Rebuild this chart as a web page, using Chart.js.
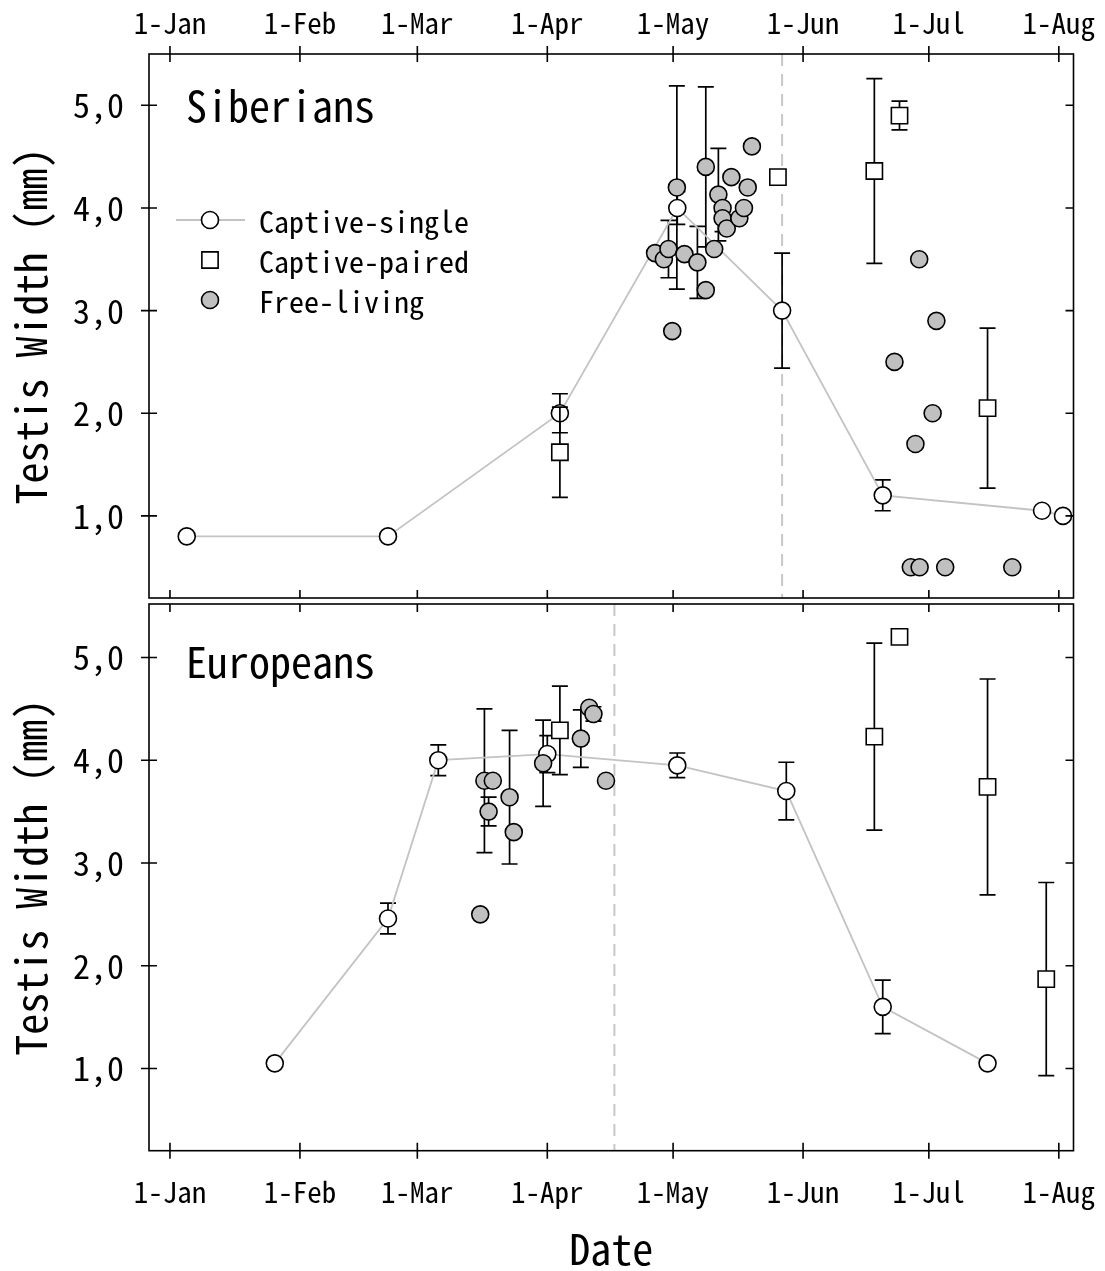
<!DOCTYPE html>
<html><head><meta charset="utf-8">
<script src="https://cdn.jsdelivr.net/npm/chart.js@4"></script>
<style>
html,body{margin:0;padding:0;background:#fff;}
#wrap{position:relative;width:1105px;height:1271px;overflow:hidden;}
canvas{position:absolute;left:0;}
#c1{top:0;}
#c2{top:602px;}
</style></head><body>
<div id="wrap"><canvas id="c1" width="1105" height="602"></canvas><canvas id="c2" width="1105" height="669"></canvas></div>
<script>
const FONT = "'Noto Sans Mono CJK SC', 'DejaVu Sans Mono', monospace";

// x values are day of year (0 = 1 January)
const monthTicks = [0, 31, 59, 90, 120, 151, 181, 212];
const monthLabels = ['1-Jan', '1-Feb', '1-Mar', '1-Apr', '1-May', '1-Jun', '1-Jul', '1-Aug'];
const yTicks = [1, 2, 3, 4, 5];
const seriesNames = ['Captive-single', 'Captive-paired', 'Free-living'];
const panelNames = ['Siberians', 'Europeans'];

// ---- Siberians ----
const sibSingleX = [4, 52, 93, 121, 146, 170, 208, 213];
const sibSingleY = [0.80, 0.80, 2.00, 4.00, 3.00, 1.20, 1.05, 1.00];
const sibSingleErr = [null, null, 0.19, 0.16, 0.56, 0.15, null, null];

const sibPairedX = [93, 145, 168, 174, 195];
const sibPairedY = [1.62, 4.30, 4.36, 4.90, 2.05];
const sibPairedErr = [0.44, null, 0.90, 0.14, 0.78];

const sibFreeX = [115.7, 117.8, 118.9, 119.8, 120.9, 122.7, 125.8, 127.8, 127.8, 129.8, 130.8, 131.8, 131.8, 132.8, 133.9, 135.8, 136.9, 137.8, 138.8,
                  172.8, 176.7, 177.8, 178.7, 178.8, 181.9, 182.8, 184.9, 200.9];
const sibFreeY = [3.56, 3.50, 3.60, 2.80, 4.20, 3.55, 3.47, 3.20, 4.40, 3.60, 4.13, 4.00, 3.90, 3.80, 4.30, 3.90, 4.00, 4.20, 4.60,
                  2.50, 0.50, 1.70, 3.50, 0.50, 2.00, 2.90, 0.50, 0.50];
const sibFreeErr = [null, null, 0.28, null, 0.99, null, 0.35, null, 0.78, null, 0.45, null, 0.13, null, null, null, null, null, null,
                    null, null, null, null, null, null, null, null, null];
const sibDashDay = 146;

// ---- Europeans ----
const eurSingleX = [25, 52, 64, 90, 121, 147, 170, 195];
const eurSingleY = [1.05, 2.46, 4.00, 4.06, 3.95, 3.70, 1.60, 1.05];
const eurSingleErr = [null, 0.15, 0.15, 0.18, 0.12, 0.28, 0.26, null];

const eurPairedX = [93, 168, 174, 195, 209];
const eurPairedY = [4.29, 4.23, 5.20, 3.74, 1.87];
const eurPairedErr = [0.43, 0.91, null, 1.05, 0.94];

const eurFreeX = [74, 75, 77, 76, 81, 82, 89, 98, 100, 101, 104];
const eurFreeY = [2.50, 3.80, 3.80, 3.50, 3.64, 3.30, 3.97, 4.21, 4.51, 4.45, 3.80];
const eurFreeErr = [null, 0.70, null, 0.14, 0.65, null, 0.42, 0.28, null, 0.07, null];
const eurDashDay = 106;

const xMin = -5, xMax = 215.5;

function pts(xs, ys) { return xs.map((v, i) => ({x: v, y: ys[i]})); }

function makeDatasets(sx, sy, se, px, py, pe, fx, fy, fe) {
  return [
    {label: seriesNames[0], data: pts(sx, sy), errors: se, showLine: true, borderColor: '#c3c3c3', borderWidth: 1.8,
     pointStyle: 'circle', pointRadius: 8.5, pointBackgroundColor: '#ffffff', pointBorderColor: '#000', pointBorderWidth: 1.6, order: 3},
    {label: seriesNames[1], data: pts(px, py), errors: pe, showLine: false,
     pointStyle: 'rect', pointRadius: 11.5, pointBackgroundColor: '#ffffff', pointBorderColor: '#000', pointBorderWidth: 1.6, order: 2},
    {label: seriesNames[2], data: pts(fx, fy), errors: fe, errUnder: true, showLine: false,
     pointStyle: 'circle', pointRadius: 8.5, pointBackgroundColor: '#c0c0c0', pointBorderColor: '#000', pointBorderWidth: 1.6, order: 1}
  ];
}

function drawErr(chart, i) {
  const ds = chart.data.datasets[i];
  if (!ds.errors) return;
  const meta = chart.getDatasetMeta(i);
  const y = chart.scales.y, ctx = chart.ctx;
  ctx.save();
  ctx.strokeStyle = '#000'; ctx.lineWidth = 1.7;
  ds.data.forEach((p, j) => {
    const e = ds.errors[j];
    if (e == null) return;
    const px = meta.data[j].x;
    const t = y.getPixelForValue(p.y + e), b = y.getPixelForValue(p.y - e);
    ctx.beginPath();
    ctx.moveTo(px, t); ctx.lineTo(px, b);
    ctx.moveTo(px - 8, t); ctx.lineTo(px + 8, t);
    ctx.moveTo(px - 8, b); ctx.lineTo(px + 8, b);
    ctx.stroke();
  });
  ctx.restore();
}

const decor = {
  id: 'decor',
  beforeDatasetsDraw(chart, args, opts) {
    const {ctx, chartArea: a, scales: {x}} = chart;
    ctx.save();
    ctx.strokeStyle = '#c8c8c8'; ctx.lineWidth = 2; ctx.setLineDash([12, 8]);
    const dx = x.getPixelForValue(opts.dashDay);
    ctx.beginPath(); ctx.moveTo(dx, a.top); ctx.lineTo(dx, a.bottom); ctx.stroke();
    ctx.restore();
    chart.data.datasets.forEach((ds, i) => { if (ds.errUnder) drawErr(chart, i); });
  },
  beforeDatasetDraw(chart, args) {
    const ds = chart.data.datasets[args.index];
    if (!ds.errUnder) drawErr(chart, args.index);
  },
  afterDraw(chart, args, opts) {
    const {ctx, chartArea: a, scales: {x, y}} = chart;
    const L = 8;
    ctx.save();
    ctx.strokeStyle = '#000'; ctx.lineWidth = 1.6;
    ctx.strokeRect(a.left, a.top, a.right - a.left, a.bottom - a.top);
    ctx.beginPath();
    x.ticks.forEach(t => {
      const px = x.getPixelForValue(t.value);
      ctx.moveTo(px, a.top + L); ctx.lineTo(px, a.top - (opts.topOut ? L : 0));
      ctx.moveTo(px, a.bottom - L); ctx.lineTo(px, a.bottom + (opts.bottomOut ? L : 0));
    });
    y.ticks.forEach(t => {
      const py = y.getPixelForValue(t.value);
      ctx.moveTo(a.left - L, py); ctx.lineTo(a.left + L, py);
      ctx.moveTo(a.right - L, py); ctx.lineTo(a.right, py);
    });
    ctx.stroke();
    // panel title
    ctx.fillStyle = '#000';
    ctx.font = '42px ' + FONT;
    ctx.textAlign = 'left'; ctx.textBaseline = 'alphabetic';
    ctx.fillText(opts.title, opts.titleX, opts.titleY);
    // legend
    if (opts.legend) {
      const ds = chart.data.datasets;
      const lx = 210, rows = [220, 260, 300];
      ctx.font = '30px ' + FONT;
      ctx.textBaseline = 'middle';
      ds.forEach((d, i) => {
        const ly = rows[i];
        if (d.showLine) {
          ctx.strokeStyle = d.borderColor; ctx.lineWidth = d.borderWidth;
          ctx.beginPath(); ctx.moveTo(176, ly); ctx.lineTo(245, ly); ctx.stroke();
        }
        ctx.fillStyle = d.pointBackgroundColor; ctx.strokeStyle = d.pointBorderColor; ctx.lineWidth = d.pointBorderWidth;
        ctx.beginPath();
        if (d.pointStyle === 'rect') {
          const s = d.pointRadius * Math.SQRT1_2;
          ctx.rect(lx - s, ly - s, 2 * s, 2 * s);
        } else {
          ctx.arc(lx, ly, d.pointRadius, 0, Math.PI * 2);
        }
        ctx.fill(); ctx.stroke();
        ctx.fillStyle = '#000';
        ctx.fillText(d.label, 259, ly + 2);
      });
    }
    ctx.restore();
  }
};

function zeroPad(s) { s.paddingLeft = 0; s.paddingRight = 0; s.paddingTop = 0; s.paddingBottom = 0; }

function xAxis(position, showLabels, height, padding, title) {
  return {
    type: 'linear', position: position, min: xMin, max: xMax,
    afterBuildTicks: s => { s.ticks = monthTicks.map(v => ({value: v})); },
    ticks: {display: showLabels, autoSkip: false, maxRotation: 0, minRotation: 0, color: '#000', padding: padding,
            font: {family: FONT, size: 29, lineHeight: 1.2}, callback: (v, i) => monthLabels[i]},
    grid: {display: false, drawTicks: false}, border: {display: false},
    title: title ? {display: true, text: title, color: '#000', font: {family: FONT, size: 42, lineHeight: 1}, padding: {top: 0, bottom: 1}} : {display: false},
    afterFit: s => { s.height = height; zeroPad(s); }
  };
}

function yAxis(yMax) {
  return {
    type: 'linear', position: 'left', min: 0.2, max: yMax,
    afterBuildTicks: s => { s.ticks = yTicks.map(v => ({value: v})); },
    ticks: {color: '#000', padding: 25, font: {family: FONT, size: 34, lineHeight: 1.2},
            callback: v => v.toFixed(1).replace('.', ',')},
    grid: {display: false, drawTicks: false}, border: {display: false},
    title: {display: true, text: 'Testis Width (mm)', color: '#000', font: {family: FONT, size: 42, lineHeight: 1}, padding: {top: 10, bottom: 0}},
    afterFit: s => { s.width = 149; zeroPad(s); }
  };
}

// Top chart: Siberians
new Chart(document.getElementById('c1'), {
  type: 'scatter',
  data: {datasets: makeDatasets(sibSingleX, sibSingleY, sibSingleErr, sibPairedX, sibPairedY, sibPairedErr, sibFreeX, sibFreeY, sibFreeErr)},
  options: {
    responsive: false, animation: false, events: [],
    layout: {autoPadding: false, padding: {left: 0, right: 31.5, top: 0, bottom: 0}},
    scales: {
      x: xAxis('bottom', false, 4, 0, null),
      x2: xAxis('top', true, 54, 14, null),
      y: yAxis(5.5)
    },
    plugins: {
      legend: {display: false}, tooltip: {enabled: false},
      decor: {dashDay: sibDashDay, topOut: true, bottomOut: false, title: panelNames[0], titleX: 186, titleY: 122, legend: true}
    }
  },
  plugins: [decor]
});

// Bottom chart: Europeans
new Chart(document.getElementById('c2'), {
  type: 'scatter',
  data: {datasets: makeDatasets(eurSingleX, eurSingleY, eurSingleErr, eurPairedX, eurPairedY, eurPairedErr, eurFreeX, eurFreeY, eurFreeErr)},
  options: {
    responsive: false, animation: false, events: [],
    layout: {autoPadding: false, padding: {left: 0, right: 31.5, top: 2, bottom: 0}},
    scales: {
      x: xAxis('bottom', true, 120.3, 24, 'Date'),
      y: yAxis(5.52)
    },
    plugins: {
      legend: {display: false}, tooltip: {enabled: false},
      decor: {dashDay: eurDashDay, topOut: false, bottomOut: true, title: panelNames[1], titleX: 186, titleY: 76, legend: false}
    }
  },
  plugins: [decor]
});
</script>
</body></html>
